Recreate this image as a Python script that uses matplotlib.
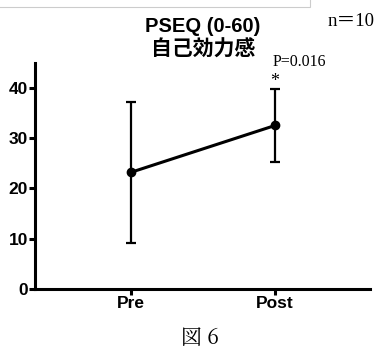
import numpy as np
import matplotlib
matplotlib.use('Agg')
import matplotlib.pyplot as plt
from matplotlib.patches import Rectangle

# data
groups = ['Pre', 'Post']
means = [23.2, 32.5]
sds = [14.0, 7.2]
yticks = [0, 10, 20, 30, 40]

plt.rcParams['font.family'] = ['Liberation Sans', 'Noto Sans CJK JP']

fig = plt.figure(figsize=(3.8, 3.49), dpi=100)
ax = fig.add_axes([0.0921, 0.1719, 0.8816, 0.6487])

x_pos = np.arange(len(groups))
ax.errorbar(x_pos, means, yerr=sds, color='black', lw=2.2, marker='o', markersize=6,
            elinewidth=1.6, capsize=3.8, capthick=1.6, zorder=3)

ax.set_xlim(-0.667, 1.66)
ax.set_ylim(0, 45)
ax.set_yticks(yticks)
ax.set_xticks(x_pos)
ax.set_xticklabels(groups, fontweight='bold', fontsize=12.5)
ax.set_yticklabels([str(t) for t in yticks], fontweight='bold', fontsize=12.5)
for s in ['top', 'right']:
    ax.spines[s].set_visible(False)
for s in ['left', 'bottom']:
    ax.spines[s].set_linewidth(2.2)
ax.tick_params(width=2.2, length=4.5, pad=0.5)

# titles and notes
fig.text(0.534, 1 - 26.5 / 349, 'PSEQ (0-60)', ha='center', va='center', fontsize=14.5, fontweight='bold')
fig.text(0.534, 1 - 49 / 349, '自己効力感', ha='center', va='center', fontsize=15, fontweight='bold',
         family=['Noto Sans CJK JP'])
fig.text(351 / 380, 1 - 21 / 349, 'n＝10', ha='center', va='center', fontsize=13.5,
         family=['Liberation Serif', 'Noto Sans CJK JP'])
fig.text(299.5 / 380, 1 - 62 / 349, 'P=0.016', ha='center', va='center', fontsize=11.5, family=['Liberation Serif'])
fig.text(275 / 380, 1 - 82 / 349, '*', ha='center', va='center', fontsize=13, family=['Liberation Serif'])
fig.text(200 / 380, 1 - 338 / 349, '図 6', ha='center', va='center', fontsize=15,
         family=['Noto Serif CJK JP', 'Noto Sans CJK JP', 'Liberation Serif'])

# faint frame at the top left
fig.patches.append(Rectangle((-0.01, 1 - 6.5 / 349), 309.5 / 380 + 0.01, 0.1, transform=fig.transFigure,
                             fill=False, edgecolor='#cccccc', lw=0.8))

plt.savefig('out.png', dpi=100)
